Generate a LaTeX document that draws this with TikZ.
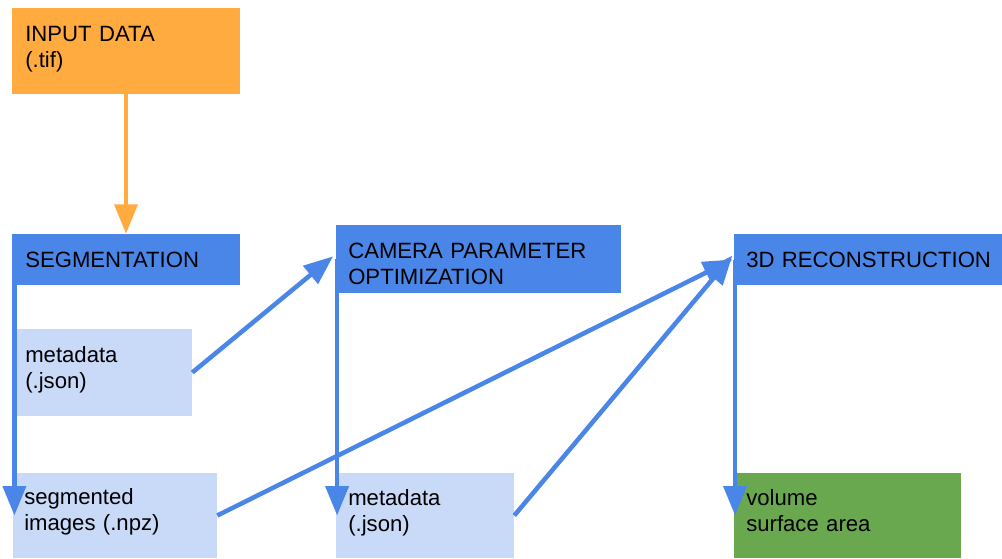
\documentclass[tikz,border=0pt]{standalone}
\usepackage{fontspec}
\setmainfont{Liberation Sans}
\usetikzlibrary{arrows.meta}

\definecolor{inorange}{HTML}{FFAB40}
\definecolor{stepblue}{HTML}{4A86E8}
\definecolor{filelight}{HTML}{C9DAF8}
\definecolor{outgreen}{HTML}{6AA84F}

\tikzset{
  box/.style={rectangle, draw=none, inner sep=0pt},
  txt/.style={inner sep=0pt, anchor=base west, text width=230pt, align=left,
              font=\fontsize{16.6pt}{19.6pt}\selectfont},
  flow/.style={line width=3.4pt, draw=#1,
               -{Triangle[length=22pt, width=17pt]}},
}

\begin{document}
\begin{tikzpicture}[x=0.75pt, y=-0.75pt]
  \useasboundingbox (0,0) rectangle (1002,558);

  % boxes
  \node[box, fill=inorange,  minimum width=171pt,    minimum height=64.5pt]  (input)  at (126,51)    {};
  \node[box, fill=stepblue,  minimum width=171pt,    minimum height=38.25pt] (seg)    at (126,259.5) {};
  \node[box, fill=filelight, minimum width=132.75pt, minimum height=65.25pt] (meta1)  at (103.5,372.5) {};
  \node[box, fill=filelight, minimum width=153pt,    minimum height=63.75pt] (segimg) at (115,515.5) {};
  \node[box, fill=stepblue,  minimum width=213.75pt, minimum height=51pt]    (cam)    at (478.5,259) {};
  \node[box, fill=filelight, minimum width=133.5pt,  minimum height=63.75pt] (meta2)  at (425,515.5) {};
  \node[box, fill=stepblue,  minimum width=201pt,    minimum height=38.25pt] (recon)  at (868,259.5) {};
  \node[box, fill=outgreen,  minimum width=170.25pt, minimum height=63.75pt] (result) at (847.5,515.5) {};

  % connectors
  \draw[flow=inorange] (input.south) -- (seg.north);
  \draw[flow=stepblue] ([xshift=2]seg.west) -- ([xshift=2]seg.west |- segimg.west);
  \draw[flow=stepblue] ([xshift=1]cam.west) -- ([xshift=1]cam.west |- meta2.west);
  \draw[flow=stepblue] ([xshift=1]recon.west) -- ([xshift=1]recon.west |- result.west);
  \draw[flow=stepblue] (meta1.east) -- ([xshift=-2,yshift=2]cam.west);
  \draw[flow=stepblue] (segimg.east) -- ([xshift=-1]recon.west);
  \draw[flow=stepblue] (meta2.east) -- ([xshift=-1,yshift=3]recon.west);

  % labels
  \node[txt] (tinput)  at (25,41)  {INPUT DATA\\(.tif)};
  \node[txt] (tseg)    at (25,267) {SEGMENTATION};
  \node[txt] (tmeta1)  at (25,362) {metadata\\(.json)};
  \node[txt] (tsegimg) at (24,504) {segmented\\images (.npz)};
  \node[txt] (tcam)    at (348,258) {CAMERA PARAMETER\\OPTIMIZATION};
  \node[txt] (tmeta2)  at (348,505) {metadata\\(.json)};
  \node[txt] (trecon)  at (746,267) {3D RECONSTRUCTION};
  \node[txt] (tresult) at (746,505) {volume\\surface area};
\end{tikzpicture}
\end{document}
